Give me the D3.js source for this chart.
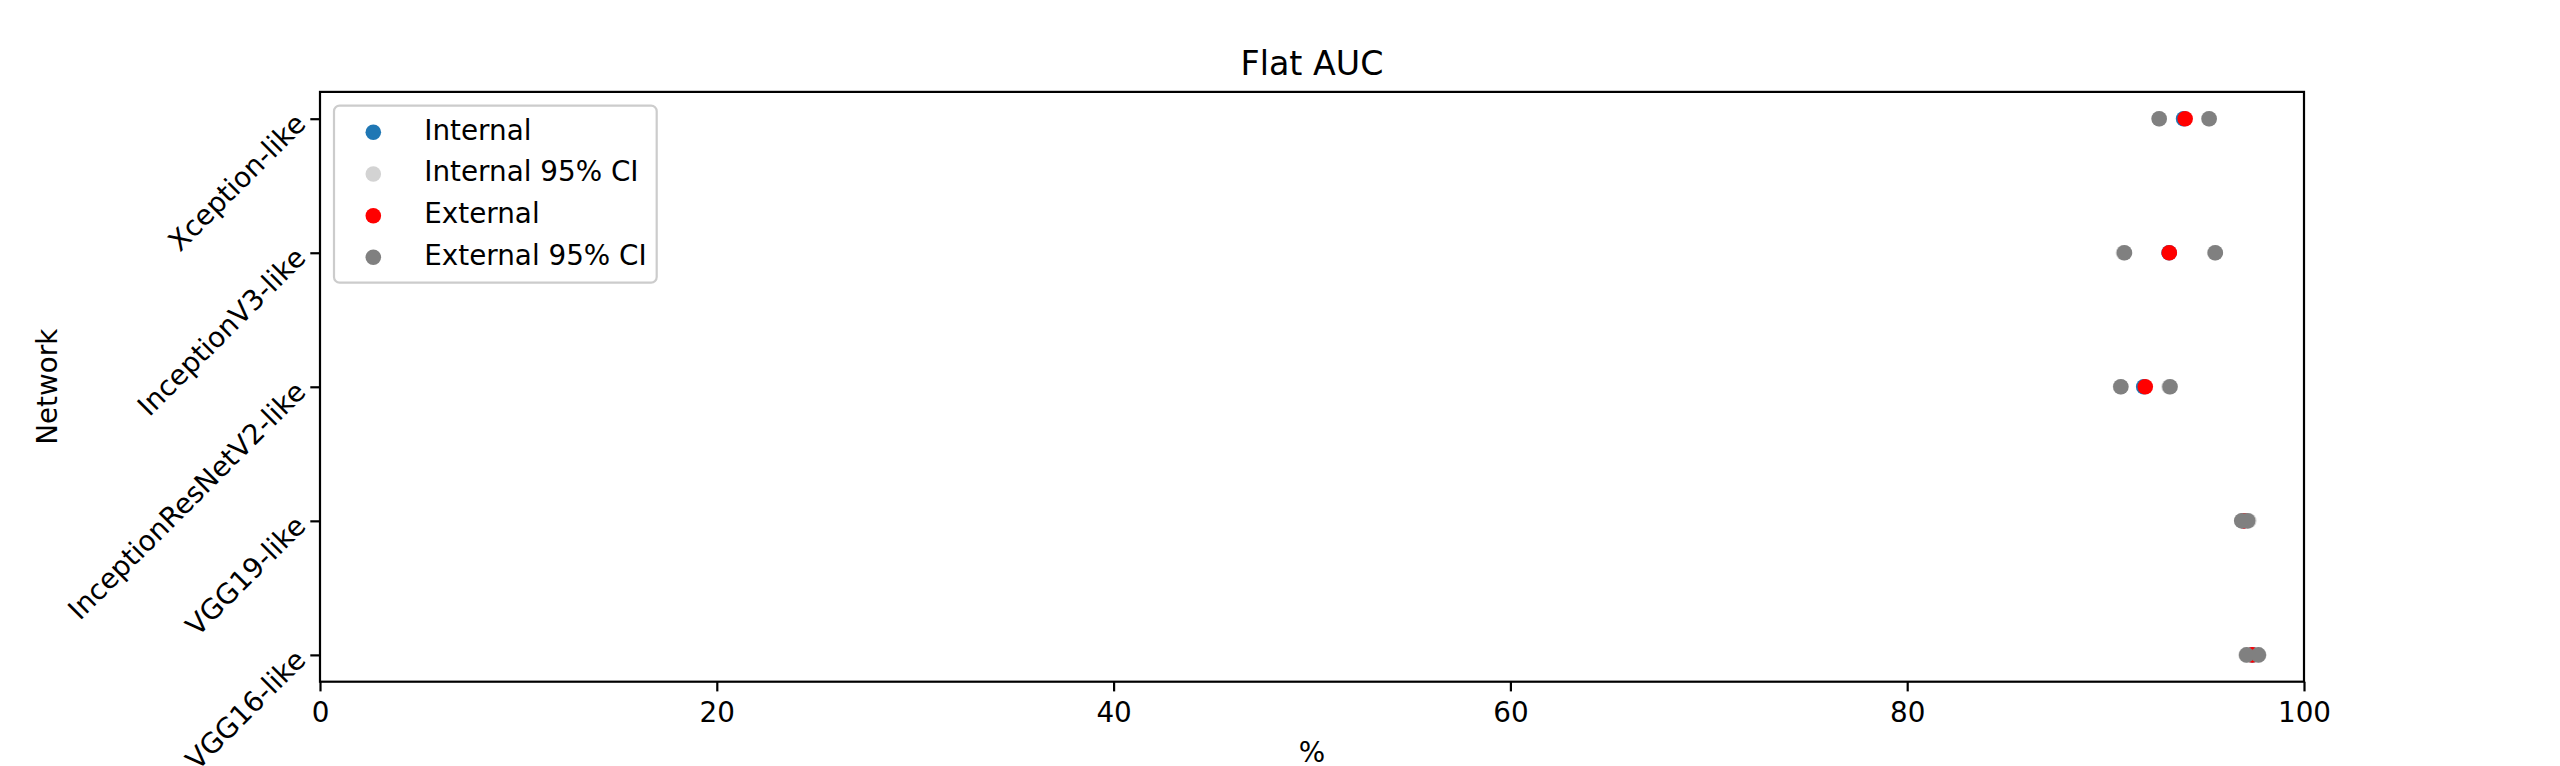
<!DOCTYPE html>
<html>
<head>
<meta charset="utf-8">
<script src="https://cdn.jsdelivr.net/npm/d3@7"></script>
<style>
  html, body { margin: 0; padding: 0; background: #fff; }
  svg { display: block; }
  text { font-family: "DejaVu Sans", sans-serif; fill: #000; }
</style>
</head>
<body>
<script>
// ---- data ----
const networks = ["VGG16-like", "VGG19-like", "InceptionResNetV2-like", "InceptionV3-like", "Xception-like"];
const internal   = [97.40, 96.97, 91.92, 93.20, 93.93];
const internalLo = [97.08, 96.90, 90.75, 90.90, 92.70];
const internalHi = [97.72, 97.22, 93.20, 95.50, 95.20];
const external   = [97.39, 96.97, 92.00, 93.21, 94.01];
const externalLo = [97.11, 96.86, 90.77, 90.95, 92.70];
const externalHi = [97.70, 97.16, 93.25, 95.53, 95.22];
const xTicks = [0, 20, 40, 60, 80, 100];
const legendLabels = ["Internal", "Internal 95% CI", "External", "External 95% CI"];
const legendColors = ["#1f77b4", "lightgrey", "red", "grey"];
const titleText = "Flat AUC";
const xLabelText = "%";
const yLabelText = "Network";

// ---- layout ----
const W = 2560, H = 766;
const L = 320, R = 2304, T = 91.9, B = 681.7;
const tickFont = 27.8, titleFont = 33.3;
const tickLen = 9.7, tickPad = 9.7;
const markerR = 7.8;

const svg = d3.select("body").append("svg").attr("width", W).attr("height", H);
svg.append("rect").attr("width", W).attr("height", H).attr("fill", "#fff");

const x = d3.scaleLinear().domain([0, 100]).range([L, R]);
const y = d3.scalePoint().domain(networks).range([B, T]).padding(0.2);

// data points
const layers = [
  {vals: internal, color: legendColors[0]},
  {vals: internalLo.concat(internalHi), cats: networks.concat(networks), color: legendColors[1]},
  {vals: external, color: legendColors[2]},
  {vals: externalLo.concat(externalHi), cats: networks.concat(networks), color: legendColors[3]}
];
layers.forEach(layer => {
  const cats = layer.cats || networks;
  svg.append("g").selectAll("circle")
    .data(layer.vals.map((v, i) => ({v, c: cats[i]})))
    .join("circle")
    .attr("cx", d => x(d.v))
    .attr("cy", d => y(d.c))
    .attr("r", markerR)
    .attr("fill", layer.color);
});

// x axis
const xAxis = svg.append("g").attr("transform", `translate(0,${B})`)
  .call(d3.axisBottom(x).tickValues(xTicks).tickSize(tickLen).tickPadding(tickPad).tickFormat(d3.format("d")));
xAxis.select(".domain").remove();
xAxis.selectAll(".tick line").attr("stroke", "#000").attr("stroke-width", 2.2);
xAxis.selectAll(".tick text").attr("font-size", tickFont).attr("font-family", "DejaVu Sans").attr("dy", "0.74em");

// y axis ticks
const yAxis = svg.append("g").attr("transform", `translate(${L},0)`)
  .call(d3.axisLeft(y).tickSize(tickLen).tickFormat(""));
yAxis.select(".domain").remove();
yAxis.selectAll(".tick line").attr("stroke", "#000").attr("stroke-width", 2.2);

// rotated y tick labels (45 deg, anchored at their right-middle point)
const labelRight = L - tickLen - tickPad;
svg.append("g").selectAll("text")
  .data(networks)
  .join("text")
  .attr("transform", d => `translate(${labelRight},${y(d)}) rotate(-45)`)
  .attr("text-anchor", "end")
  .attr("dominant-baseline", "central")
  .attr("font-size", tickFont)
  .text(d => d);

// frame
svg.append("rect").attr("x", L).attr("y", T).attr("width", R - L).attr("height", B - T)
  .attr("fill", "none").attr("stroke", "#000").attr("stroke-width", 2.2);

// title
svg.append("text").attr("x", (L + R) / 2).attr("y", 75)
  .attr("text-anchor", "middle").attr("font-size", titleFont).text(titleText);

// x label
svg.append("text").attr("x", (L + R) / 2).attr("y", 762)
  .attr("text-anchor", "middle").attr("font-size", tickFont).text(xLabelText);

// y label
svg.append("text").attr("transform", `translate(56.5,${(T + B) / 2}) rotate(-90)`)
  .attr("text-anchor", "middle").attr("font-size", tickFont).text(yLabelText);

// legend
const lg = svg.append("g");
lg.append("rect").attr("x", 334).attr("y", 105.7).attr("width", 322.7).attr("height", 177)
  .attr("rx", 5.6).attr("ry", 5.6)
  .attr("fill", "#fff").attr("fill-opacity", 0.8)
  .attr("stroke", "#cccccc").attr("stroke-width", 2.2);
const rowY = [132.3, 174, 215.7, 257.3];
legendLabels.forEach((lab, i) => {
  lg.append("circle").attr("cx", 373.3).attr("cy", rowY[i]).attr("r", markerR).attr("fill", legendColors[i]);
  lg.append("text").attr("x", 424.3).attr("y", rowY[i] + 7.4)
    .attr("font-size", tickFont).text(lab);
});
</script>
</body>
</html>
